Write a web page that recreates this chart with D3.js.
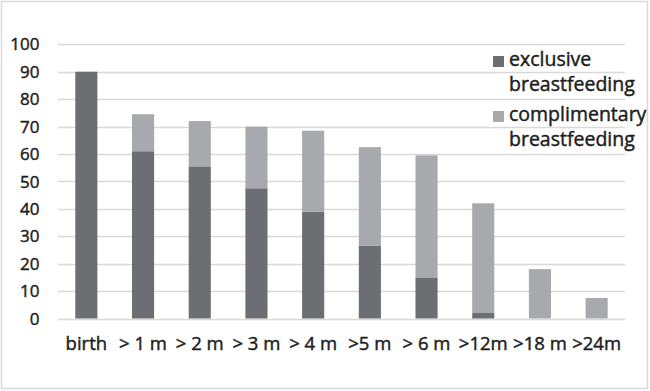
<!DOCTYPE html>
<html><head><meta charset="utf-8">
<script src="https://cdn.jsdelivr.net/npm/d3@7"></script>
<style>body{margin:0;background:#fff}svg{display:block}
text{stroke:#1e1e1e;stroke-width:0.45px;paint-order:fill}</style>
</head><body>
<svg id="c" width="650" height="391"></svg>
<script>
const categories = ["birth", "> 1 m", "> 2 m", "> 3 m", "> 4 m", ">5 m", "> 6 m", ">12m", ">18 m", ">24m"];
const exclusive = [90, 61, 55.5, 47.5, 39, 26.5, 15, 2, 0, 0];
const complementary = [0, 13.5, 16.5, 22.5, 29.5, 36, 44.5, 40, 18, 7.5];
const seriesNames = ["exclusive breastfeeding", "complimentary breastfeeding"];
const yTicks = [0, 10, 20, 30, 40, 50, 60, 70, 80, 90, 100];

const colors = ["#6d6e71", "#a7a9ac"];
const font = "'Open Sans', 'Noto Sans', sans-serif";
const textColor = "#1e1e1e";
const svg = d3.select("#c");

svg.append("rect").attr("x", 1.5).attr("y", 1.5).attr("width", 646).attr("height", 387)
  .attr("fill", "#fff").attr("stroke", "#d9d9d9").attr("stroke-width", 1.5);

const x = d3.scaleBand().domain(categories).range([58, 625]).paddingInner(0.61).paddingOuter(0.305);
const y = d3.scaleLinear().domain([0, 100]).range([318.5, 44.3]);

// gridlines
svg.append("g").selectAll("line").data(yTicks).join("line")
  .attr("x1", 58).attr("x2", 625)
  .attr("y1", d => Math.round(y(d)) + 0.5).attr("y2", d => Math.round(y(d)) + 0.5)
  .attr("stroke", "#d9d9d9").attr("stroke-width", 1.5);

// y labels
svg.append("g").selectAll("text").data(yTicks).join("text")
  .attr("x", 39.5).attr("y", d => y(d)).attr("dy", "0.36em")
  .attr("text-anchor", "end").attr("font-family", font).attr("font-size", 17)
  .attr("fill", textColor).text(d => d);

const rows = categories.map((c, i) => ({cat: c, ex: exclusive[i], co: complementary[i]}));
const stack = d3.stack().keys(["ex", "co"])(rows);

svg.append("g").selectAll("g").data(stack).join("g")
  .attr("fill", (d, i) => colors[i])
  .selectAll("rect").data(d => d.filter(p => p[1] - p[0] > 0)).join("rect")
  .attr("x", d => x(d.data.cat)).attr("width", x.bandwidth())
  .attr("y", d => y(d[1])).attr("height", d => y(d[0]) - y(d[1]));

// x labels
svg.append("g").selectAll("text").data(categories).join("text")
  .attr("x", d => x(d) + x.bandwidth() / 2).attr("y", 350)
  .attr("text-anchor", "middle").attr("font-family", font).attr("font-size", 18.5)
  .attr("fill", textColor).text(d => d);

// legend
const leg = [
  {c: colors[0], l1: "exclusive", l2: "breastfeeding", y: 56},
  {c: colors[1], l1: "complimentary", l2: "breastfeeding", y: 111}
];
const lg = svg.append("g").selectAll("g").data(leg).join("g");
lg.append("rect").attr("x", 493).attr("y", d => d.y).attr("width", 11).attr("height", 11).attr("fill", d => d.c);
lg.append("text").attr("x", 509).attr("y", d => d.y + 10).attr("font-family", font).attr("font-size", 19.5)
  .attr("fill", textColor).text(d => d.l1);
lg.append("text").attr("x", 509).attr("y", d => d.y + 34.5).attr("font-family", font).attr("font-size", 19.5)
  .attr("fill", textColor).text(d => d.l2);
</script>
</body></html>
